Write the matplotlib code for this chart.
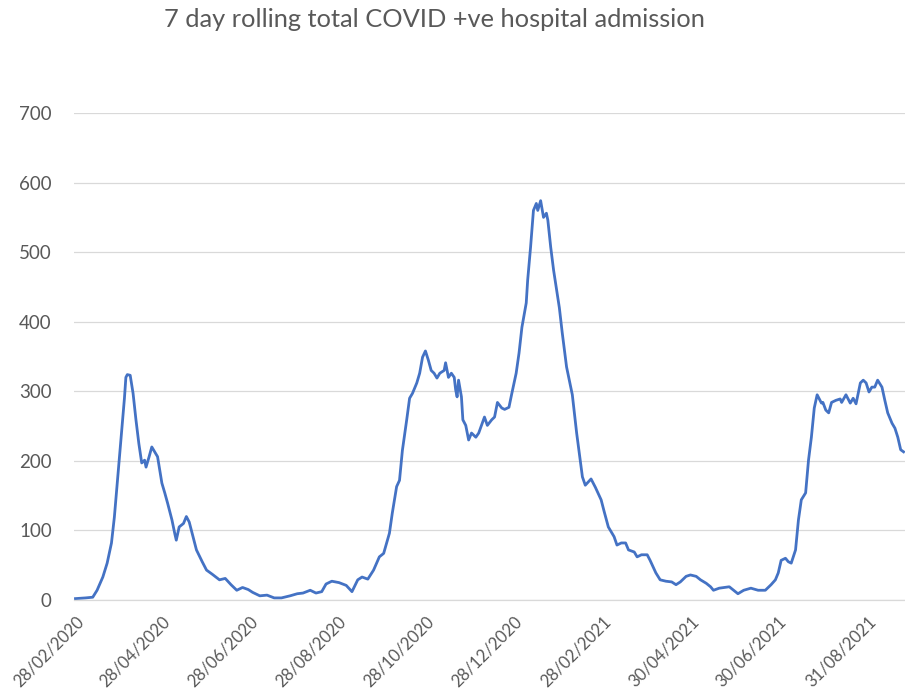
import numpy as np
import matplotlib
matplotlib.use("Agg")
import matplotlib.pyplot as plt
import matplotlib.dates as mdates

# 7 day rolling total of COVID +ve hospital admissions, read every few days
start = np.datetime64("2020-02-28")
day_offset = [0, 7, 12, 15, 19, 22, 25, 27, 29, 32, 34, 35, 36, 38, 40, 42, 44, 46, 48, 49,
              51, 53, 55, 57, 60, 62, 64, 67, 69, 70, 72, 75, 77, 79, 81, 84, 88, 91, 95, 100,
              104, 108, 112, 116, 120, 123, 128, 133, 138, 143, 149, 154, 158, 163, 167, 171, 174, 178, 183, 188,
              192, 196, 199, 203, 207, 211, 214, 218, 220, 223, 225, 227, 230, 232, 234, 237, 239, 241, 243, 245,
              247, 249, 251, 253, 256, 257, 259, 261, 263, 264, 265, 266, 268, 269, 271, 273, 275, 278, 280, 284,
              286, 289, 291, 293, 296, 298, 301, 303, 306, 308, 310, 313, 314, 316, 318, 320, 321, 323, 325, 327,
              328, 330, 332, 336, 338, 341, 345, 348, 352, 354, 358, 361, 365, 367, 370, 374, 376, 379, 382, 384,
              388, 390, 393, 397, 399, 403, 406, 410, 414, 417, 420, 424, 427, 431, 434, 438, 441, 443, 447, 454,
              457, 460, 464, 469, 474, 479, 483, 486, 488, 490, 493, 495, 497, 500, 502, 504, 507, 509, 511, 513,
              515, 518, 519, 521, 523, 525, 528, 531, 532, 535, 538, 540, 542, 545, 547, 549, 551, 553, 555, 557,
              560, 562, 564, 567, 569, 571, 573, 575]
admissions = [2, 3, 4, 14, 33, 53, 82, 119, 168, 240, 290, 320, 324, 323, 297, 259, 225, 197, 201, 191,
              205, 220, 213, 206, 168, 154, 139, 115, 95, 86, 105, 110, 120, 112, 96, 72, 55, 43, 37, 29,
              31, 22, 14, 18, 15, 11, 6, 7, 3, 3, 6, 9, 10, 14, 10, 12, 23, 27, 25, 21,
              12, 29, 33, 30, 43, 62, 67, 96, 125, 163, 172, 215, 259, 290, 297, 312, 326, 349, 358, 345,
              330, 326, 319, 326, 330, 341, 320, 326, 320, 302, 292, 316, 292, 259, 251, 230, 240, 234, 240, 263,
              251, 259, 263, 284, 276, 274, 277, 297, 326, 355, 392, 427, 460, 507, 560, 570, 560, 574, 550, 556,
              546, 507, 474, 420, 384, 335, 295, 240, 177, 165, 174, 162, 144, 128, 105, 91, 79, 82, 82, 72,
              69, 62, 65, 65, 57, 39, 29, 27, 26, 22, 26, 34, 36, 34, 29, 24, 19, 14, 17, 19,
              14, 9, 14, 17, 14, 14, 22, 29, 39, 57, 60, 55, 53, 72, 115, 144, 154, 201, 234, 276,
              295, 283, 284, 273, 269, 284, 287, 289, 284, 295, 283, 290, 282, 312, 316, 312, 299, 306, 306, 316,
              306, 287, 269, 254, 247, 234, 216, 213]
tick_dates = ["2020-02-28", "2020-04-28", "2020-06-28", "2020-08-28", "2020-10-28",
              "2020-12-28", "2021-02-28", "2021-04-30", "2021-06-30", "2021-08-31"]

dates = start + np.array(day_offset).astype("timedelta64[D]")

plt.rcParams["font.family"] = ["Lato", "DejaVu Sans"]
grey = "#595959"

fig = plt.figure(figsize=(9.05, 6.93), dpi=100)
ax = fig.add_axes([0.0818, 0.1342, 0.9182, 0.7027])

ax.plot(dates, admissions, color="#4472C4", linewidth=2.0, solid_joinstyle="round")

ax.set_ylim(0, 700)
ax.set_yticks(range(0, 701, 100))
ax.set_xlim(start - np.timedelta64(1, "D"), start + np.timedelta64(576, "D"))
ax.set_xticks([np.datetime64(d) for d in tick_dates])
ax.xaxis.set_major_formatter(mdates.DateFormatter("%d/%m/%Y"))

ax.grid(axis="y", color="#D9D9D9", linewidth=0.9)
ax.set_axisbelow(True)
for side in ["top", "right", "left"]:
    ax.spines[side].set_visible(False)
ax.spines["bottom"].set_color("#D9D9D9")
ax.spines["bottom"].set_linewidth(0.9)

ax.tick_params(axis="y", length=0, pad=16, labelsize=13.5, labelcolor=grey)
ax.tick_params(axis="x", length=0, pad=10, labelsize=12, labelcolor=grey)
for lab in ax.get_xticklabels():
    lab.set_rotation(45)
    lab.set_ha("right")
    lab.set_va("top")
    lab.set_rotation_mode("anchor")

fig.text(0.48, 0.972, "7 day rolling total COVID +ve hospital admission",
         ha="center", va="center", fontsize=18.3, color=grey)

fig.savefig("out.png", dpi=100)
